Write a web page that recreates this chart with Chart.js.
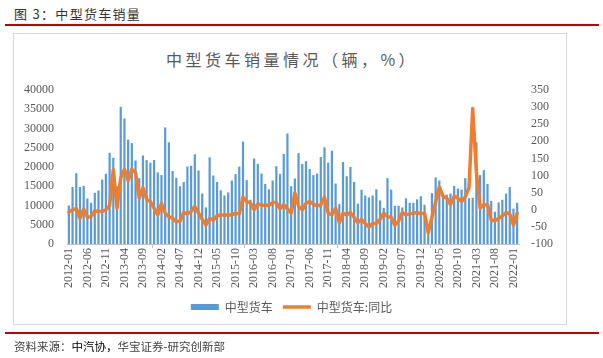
<!DOCTYPE html>
<html><head><meta charset="utf-8">
<script src="https://cdn.jsdelivr.net/npm/chart.js@4.4.1/dist/chart.umd.min.js"></script>
<style>
html,body{margin:0;padding:0;background:#fff;width:603px;height:358px;overflow:hidden;position:relative;}
#fig{position:absolute;left:14px;top:4px;font:13px "Noto Sans CJK SC";color:#333;letter-spacing:1.3px;white-space:nowrap;}
#rule1{position:absolute;left:5px;top:24px;width:594px;height:2px;background:#c00000;}
#box{position:absolute;left:13px;top:33px;width:554px;height:292px;border:1px solid #d9d9d9;box-sizing:border-box;}
#ctitle{position:absolute;left:0;top:47px;width:584px;text-align:center;font:16px "Noto Sans CJK SC";color:#595959;letter-spacing:3.5px;white-space:nowrap;}
#rule2{position:absolute;left:5px;top:332px;width:594px;height:2px;background:#c00000;}
#src{position:absolute;left:14px;top:338px;font:11.5px "Noto Sans CJK SC";color:#444;white-space:nowrap;}
#src b{font-weight:normal;color:#000;}
#wrap{position:absolute;left:0;top:0;width:603px;height:358px;}
</style></head>
<body>
<div id="fig">图 3：中型货车销量</div>
<div id="rule1"></div>
<div id="box"></div>
<div id="ctitle">中型货车销量情况（辆，%）</div>
<div id="wrap"><canvas id="c" width="603" height="358"></canvas></div>
<div id="rule2"></div>
<div id="src">资料来源：<b>中汽协，</b>华宝证券-研究创新部</div>
<script>
// categories: monthly 2012-01 .. 2022-02
const years = [2012,2013,2014,2015,2016,2017,2018,2019,2020,2021,2022];
const categories = [];
for (const y of years) for (let m = 1; m <= 12; m++) {
  if (y === 2022 && m > 2) break;
  categories.push(y + '-' + String(m).padStart(2,'0'));
}
// 中型货车 sales (units)
const sales = [
 10000,14800,18400,14800,15100,11800,10700,13300,13900,16750,18250,23700,
 22400,15000,35600,32600,27100,26200,21700,17100,23000,21800,21100,21800,
 18600,17900,30300,26400,18950,17200,15000,16100,20100,20300,23300,19100,
 13100,9500,22500,17800,16100,13950,12600,13400,16500,18150,20100,26600,
 16600,11500,22200,20800,18300,15600,14200,16500,20200,18150,23400,28700,
 15000,17000,23600,20800,21500,19500,17900,18300,22600,25100,21100,24200,
 15700,10350,21300,17600,20000,16100,10500,14100,12600,12100,12600,14200,
 11300,9400,17100,14100,9900,9900,9500,11850,10700,10700,11600,12400,
 10200,3000,13200,17300,16500,12400,12800,13100,15100,14400,14100,17100,
 11900,12000,26400,17900,19200,15600,11200,8400,10800,11500,13100,14800,
 9200,10700
];
// 中型货车:同比 (%)
const yoy = [
 -7,0,3,-25,2,-22,-20,-3,-5,-5,0,12,
 118,5,93,118,85,118,108,34,64,30,24,5,
 -15,19,-10,-20,-25,-35,-33,-8,-12,-5,10,-10,
 -28,-45,-25,-30,-17,-15,-15,-15,-15,-10,-12,37,
 24,20,0,17,14,13,13,21,21,3,15,3,
 -10,49,10,0,19,24,17,11,14,37,-10,-15,
 5,-38,-10,-15,-8,-22,-38,-28,-40,-50,-40,-40,
 -28,-10,-20,-22,-45,-33,-8,-15,-12,-10,-8,-12,
 -10,-67,-22,23,67,39,34,15,40,34,24,38,
 64,296,110,5,15,15,-30,-32,-25,-18,-8,-12,
 -45,-10
];
const leftTicks = [0,5000,10000,15000,20000,25000,30000,35000,40000];
const rightTicks = [-100,-50,0,50,100,150,200,250,300,350];
const seriesNames = ['中型货车','中型货车:同比'];

const serif = "'Liberation Serif', 'Times New Roman', serif";
const tickFont = {family:serif, size:12};
const grey = '#595959';

function draw(){
new Chart(document.getElementById('c'), {
  type:'bar',
  data:{
    labels:categories,
    datasets:[
      {label:seriesNames[0], data:sales, backgroundColor:'#5b9bd5', borderWidth:0,
       yAxisID:'y', order:1, categoryPercentage:1, barPercentage:0.6,
       pointStyle:'rect'},
      {label:seriesNames[1], type:'line', data:yoy, borderColor:'#ed7d31', backgroundColor:'#ed7d31',
       borderWidth:3.5, pointRadius:0, tension:0, yAxisID:'y1', order:0, pointStyle:'line',
       borderJoinStyle:'round', borderCapStyle:'round'}
    ]
  },
  options:{
    responsive:false, animation:false,
    layout:{padding:{left:17,right:37,top:90,bottom:35}},
    plugins:{
      title:{display:false}, tooltip:{enabled:false},
      legend:{position:'bottom',
        labels:{usePointStyle:true, pointStyleWidth:28, boxHeight:6, padding:10,
          color:grey, font:{family:'"Noto Sans CJK SC"', size:12},
          sort:(a,b)=>a.datasetIndex-b.datasetIndex}}
    },
    scales:{
      x:{
        grid:{display:true, drawOnChartArea:false, drawTicks:true, tickLength:4, offset:true,
          color:(ctx)=> (ctx.index % 5 === 0 ? '#bfbfbf' : 'rgba(0,0,0,0)')},
        border:{display:true, color:'#bfbfbf'},
        ticks:{autoSkip:false, maxRotation:90, minRotation:90, padding:0, color:grey, font:tickFont,
          callback:function(v,i){ return i % 5 === 0 ? categories[i] : null; }},
        afterFit:(s)=>{ s.height = 47; }
      },
      y:{position:'left', min:0, max:40000,
        grid:{display:false, drawTicks:false}, border:{display:false},
        afterBuildTicks:(s)=>{ s.ticks = leftTicks.map(v=>({value:v})); },
        ticks:{autoSkip:false, padding:13, color:grey, font:tickFont, callback:(v)=>String(v)},
        afterFit:(s)=>{ s.width = 50; }
      },
      y1:{position:'right', min:-100, max:350,
        grid:{display:false, drawTicks:false}, border:{display:false},
        afterBuildTicks:(s)=>{ s.ticks = rightTicks.map(v=>({value:v})); },
        ticks:{autoSkip:false, padding:12, color:grey, font:tickFont, callback:(v)=>String(v)},
        afterFit:(s)=>{ s.width = 47; }
      }
    }
  }
});
}
if (document.fonts && document.fonts.load) {
  Promise.all([
    document.fonts.load("12px 'Liberation Serif'"),
    document.fonts.load("12px 'Noto Sans CJK SC'", "中型货车")
  ]).then(draw, draw);
} else draw();
</script>
</body></html>
